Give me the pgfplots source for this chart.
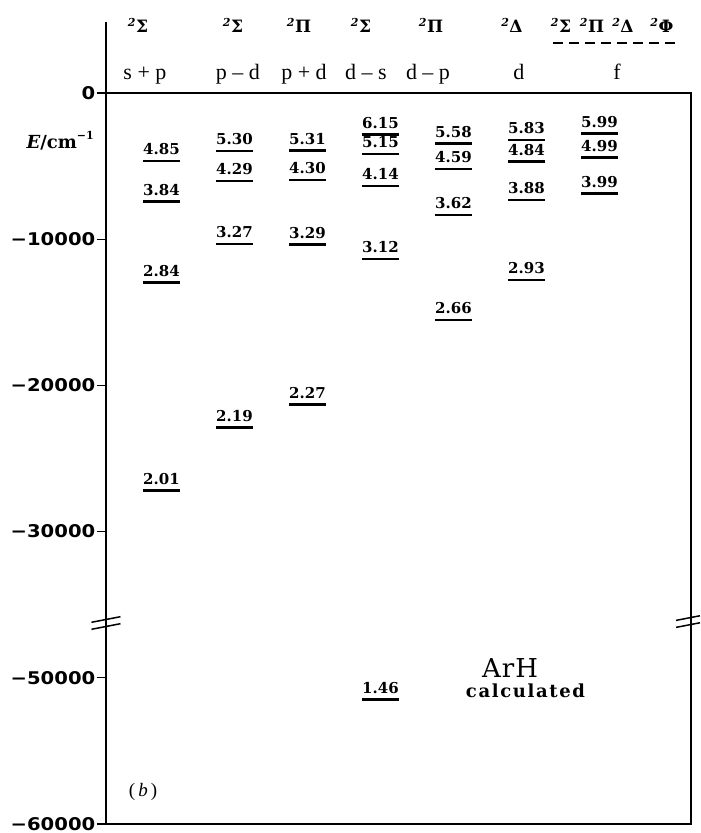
\documentclass[border=0pt]{standalone}
\usepackage{pgfplots}
\usepackage{pgfplotstable}
\pgfplotsset{compat=1.18}
\usepackage{fontspec}
\setmainfont{Liberation Serif}
\newfontfamily\dvserif{DejaVu Serif}
\newfontfamily\dvsans[FakeStretch=1.12]{DejaVu Sans}
\newfontfamily\arhfont[LetterSpace=4]{DejaVu Serif}
\newfontfamily\calcfont[LetterSpace=9]{DejaVu Serif}
\newcommand\numfont{\dvserif\bfseries\fontsize{15}{15}\selectfont}
\newcommand\tickfont{\dvsans\bfseries\fontsize{17.5}{17.5}\selectfont}
\newcommand\term[1]{{\dvserif\bfseries\fontsize{17}{17}\selectfont\raisebox{6pt}{\fontsize{11}{11}\selectfont\itshape 2}\kern0.5pt#1}}
\newcommand\cfg[1]{{\fontsize{22}{22}\selectfont #1}}

\pgfplotstableread{
x E lab
1 -4651 4.85
1 -7435 3.84
1 -12975 2.84
1 -27203 2.01
2 -3967 5.30
2 -6019 4.29
2 -10328 3.27
2 -22866 2.19
3 -3919 5.31
3 -5951 4.30
3 -10349 3.29
3 -21320 2.27
4 -2825 6.15
4 -4172 5.15
4 -6361 4.14
4 -11354 3.12
5 -3441 5.58
5 -5198 4.59
5 -8345 3.62
5 -15527 2.66
6 -3215 5.83
6 -4699 4.84
6 -7319 3.88
6 -12791 2.93
7 -2757 5.99
7 -4398 4.99
7 -6861 3.99
}\levels

% level below the axis break (shown 10000 cm^-1 higher on the broken axis)
\pgfplotstableread{
x E lab
4 -51471 1.46
}\deeplevels

\begin{document}
\begin{tikzpicture}
\begin{axis}[
  scale only axis, width=585pt, height=731pt,
  xmin=0.2397, xmax=8.2534, ymin=-50000, ymax=0,
  clip=false,
  axis line style={line width=1.6pt},
  xtick=\empty,
  ytick={0,-10000,-20000,-30000,-40000,-50000},
  yticklabels={0,−10000,−20000,−30000,−50000,−60000},
  ytick pos=left,
  tick align=outside,
  major tick length=9pt,
  tick style={line width=1.3pt, black},
  yticklabel style={font=\tickfont, inner sep=1.5pt},
  scaled y ticks=false,
  level/.style={only marks, mark=-, mark size=18.5pt,
    mark options={line width=2.6pt, black},
    point meta=explicit symbolic, nodes near coords,
    every node near coord/.append style={anchor=south, inner sep=0pt,
      yshift=4.5pt, font=\numfont, text=black}},
]
% invisible frame giving the picture its size
\path (axis cs:-1.212,6361) rectangle (axis cs:8.390,-50616);

\addplot[level] table[x=x, y=E, meta=lab] {\levels};
\addplot[level] table[x=x, y expr=\thisrow{E}+10000, meta=lab] {\deeplevels};

% left axis extended upwards
\draw[line width=1.6pt] (axis cs:0.2397,0) -- (axis cs:0.2397,4856);

% axis label
\node[anchor=base east, inner sep=0pt] at (axis cs:0.0753,-3830)
  {\dvserif\bfseries\fontsize{18}{18}\selectfont\itshape E\upshape/cm\raisebox{9pt}{\fontsize{11}{11}\selectfont −1}};

% term symbols
\node[anchor=base, inner sep=0pt] at (axis cs:0.678,4104) {\term{Σ}};
\node[anchor=base, inner sep=0pt] at (axis cs:1.979,4104) {\term{Σ}};
\node[anchor=base, inner sep=0pt] at (axis cs:2.884,4104) {\term{Π}};
\node[anchor=base, inner sep=0pt] at (axis cs:3.733,4104) {\term{Σ}};
\node[anchor=base, inner sep=0pt] at (axis cs:4.692,4104) {\term{Π}};
\node[anchor=base, inner sep=0pt] at (axis cs:5.801,4104) {\term{Δ}};
\node[anchor=base, inner sep=0pt] at (axis cs:6.473,4104) {\term{Σ}};
\node[anchor=base, inner sep=0pt] at (axis cs:6.897,4104) {\term{Π}};
\node[anchor=base, inner sep=0pt] at (axis cs:7.322,4104) {\term{Δ}};
\node[anchor=base, inner sep=0pt] at (axis cs:7.856,4104) {\term{Φ}};
\draw[line width=1.5pt, dash pattern=on 10pt off 6pt] (axis cs:6.362,3420) -- (axis cs:8.103,3420);

% configurations
\node[anchor=base, inner sep=0pt] at (axis cs:0.774,889) {\cfg{s + p}};
\node[anchor=base, inner sep=0pt] at (axis cs:2.048,889) {\cfg{p – d}};
\node[anchor=base, inner sep=0pt] at (axis cs:2.952,889) {\cfg{p + d}};
\node[anchor=base, inner sep=0pt] at (axis cs:3.801,889) {\cfg{d – s}};
\node[anchor=base, inner sep=0pt] at (axis cs:4.651,889) {\cfg{d – p}};
\node[anchor=base, inner sep=0pt] at (axis cs:5.897,889) {\cfg{d}};
\node[anchor=base, inner sep=0pt] at (axis cs:7.240,889) {\cfg{f}};

% title texts
\node[anchor=base, inner sep=0pt] at (axis cs:5.774,-39946) {\arhfont\fontsize{26}{26}\selectfont ArH};
\node[anchor=base, inner sep=0pt] at (axis cs:5.986,-41382) {\calcfont\bfseries\fontsize{18}{18}\selectfont calculated};
\node[inner sep=0pt] at (axis cs:0.747,-47812) {\fontsize{19}{19}\selectfont(\,\textit{b}\,)};

% axis break marks
\draw[line width=1.5pt] ([xshift=-14.5pt,yshift=0.7pt]axis cs:0.2397,-36252) -- ++(29pt,5.6pt);
\draw[line width=1.5pt] ([xshift=-14.5pt,yshift=-6.3pt]axis cs:0.2397,-36252) -- ++(29pt,5.6pt);
\draw[line width=1.5pt] ([xshift=-15pt,yshift=0.6pt]axis cs:8.2534,-36115) -- ++(24pt,4.64pt);
\draw[line width=1.5pt] ([xshift=-15pt,yshift=-6.4pt]axis cs:8.2534,-36115) -- ++(24pt,4.64pt);
\end{axis}
\end{tikzpicture}
\end{document}
